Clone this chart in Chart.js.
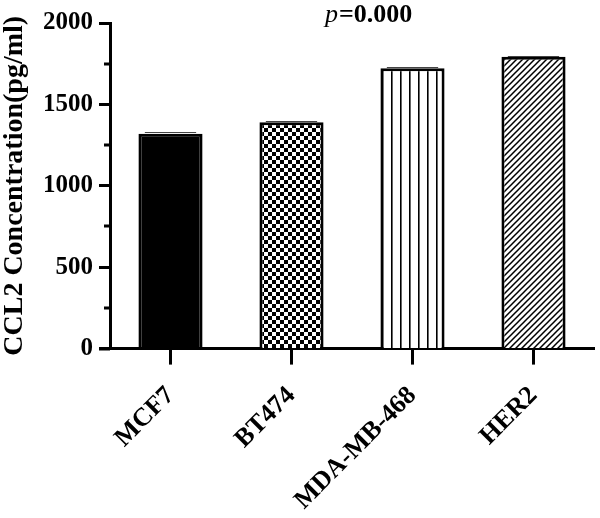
<!DOCTYPE html>
<html>
<head>
<meta charset="utf-8">
<script src="https://cdn.jsdelivr.net/npm/chart.js@4"></script>
<style>
  html, body { margin: 0; padding: 0; background: #fff; }
  #wrap { width: 600px; height: 518px; }
</style>
</head>
<body>
<div id="wrap"><canvas id="myChart"></canvas></div>
<script>
// datos
const categorias = ['MCF7', 'BT474', 'MDA-MB-468', 'HER2'];
const valores = [1320, 1390, 1722, 1792];
const errores = [10, 8, 8, 6];
const ticksMenores = [250, 750, 1250, 1750];
const textoP = '=0.000';

const fuente = 'Liberation Serif, Times New Roman, serif';

// patrones de relleno
function patronCuadros() {
    const c = document.createElement('canvas');
    c.width = 8; c.height = 8;
    const g = c.getContext('2d');
    g.fillStyle = '#fff'; g.fillRect(0, 0, 8, 8);
    g.fillStyle = '#000';
    g.fillRect(0, 0, 4, 4);
    g.fillRect(4, 4, 4, 4);
    return g.createPattern(c, 'repeat');
}

function patronVertical() {
    const c = document.createElement('canvas');
    c.width = 9; c.height = 9;
    const g = c.getContext('2d');
    g.fillStyle = '#fff'; g.fillRect(0, 0, 9, 9);
    g.fillStyle = '#000';
    g.fillRect(4, 0, 1.6, 9);
    return g.createPattern(c, 'repeat');
}

function patronDiagonal() {
    const c = document.createElement('canvas');
    c.width = 6; c.height = 6;
    const g = c.getContext('2d');
    g.fillStyle = '#fff'; g.fillRect(0, 0, 6, 6);
    g.strokeStyle = '#000';
    g.lineWidth = 1.5;
    g.beginPath();
    g.moveTo(-1, 7); g.lineTo(7, -1);
    g.moveTo(-4, 4); g.lineTo(4, -4);
    g.moveTo(2, 10); g.lineTo(10, 2);
    g.stroke();
    return g.createPattern(c, 'repeat');
}

const rellenos = ['#000', patronCuadros(), patronVertical(), patronDiagonal()];

// barras de error, ticks menores y texto p
const extras = {
    id: 'extras',
    afterDatasetsDraw(chart) {
        const ctx = chart.ctx;
        const y = chart.scales.y;
        const meta = chart.getDatasetMeta(0);
        ctx.save();
        ctx.strokeStyle = '#444';
        ctx.lineWidth = 1;
        meta.data.forEach((bar, i) => {
            const yTop = Math.round(y.getPixelForValue(valores[i] + errores[i])) + 0.5;
            const half = bar.width * 0.4;
            ctx.beginPath();
            ctx.moveTo(bar.x - half, yTop);
            ctx.lineTo(bar.x + half, yTop);
            ctx.stroke();
        });
        ctx.restore();
    },
    afterDraw(chart) {
        const ctx = chart.ctx;
        const area = chart.chartArea;
        const y = chart.scales.y;
        ctx.save();
        ctx.strokeStyle = '#000';
        ctx.lineWidth = 3;
        ctx.beginPath();
        ticksMenores.forEach(v => {
            const py = Math.round(y.getPixelForValue(v));
            ctx.moveTo(area.left - 6, py);
            ctx.lineTo(area.left, py);
        });
        // el eje x sale un poco a la izquierda del eje y
        ctx.moveTo(area.left - 11, area.bottom + 0.5);
        ctx.lineTo(area.left, area.bottom + 0.5);
        ctx.stroke();

        ctx.fillStyle = '#000';
        ctx.textBaseline = 'alphabetic';
        ctx.textAlign = 'left';
        ctx.font = 'italic 26px ' + fuente;
        const xp = 325;
        const yp = 22;
        ctx.fillText('p', xp, yp);
        const w = ctx.measureText('p').width;
        ctx.font = 'bold 26px ' + fuente;
        ctx.fillText(textoP, xp + w + 1, yp);
        ctx.restore();
    }
};

const ctx = document.getElementById('myChart').getContext('2d');
new Chart(ctx, {
    type: 'bar',
    data: {
        labels: categorias,
        datasets: [{
            data: valores,
            backgroundColor: rellenos,
            borderColor: '#000',
            borderWidth: 3,
            borderSkipped: 'bottom',
            categoryPercentage: 1,
            barPercentage: 0.53
        }]
    },
    options: {
        responsive: true,
        maintainAspectRatio: false,
        animation: false,
        layout: {
            padding: { top: 23, right: 6, left: 0, bottom: -14 }
        },
        plugins: {
            legend: { display: false },
            tooltip: { enabled: false }
        },
        scales: {
            x: {
                grid: {
                    display: true,
                    offset: false,
                    drawOnChartArea: false,
                    drawTicks: true,
                    tickLength: 16,
                    tickWidth: 3,
                    tickColor: '#000'
                },
                border: { display: true, color: '#000', width: 3 },
                ticks: {
                    color: '#000',
                    font: { family: fuente, size: 26, weight: 'bold' },
                    minRotation: 45,
                    maxRotation: 45,
                    padding: 16
                }
            },
            y: {
                min: 0,
                max: 2000,
                grid: {
                    display: true,
                    drawOnChartArea: false,
                    drawTicks: true,
                    tickLength: 11,
                    tickWidth: 3,
                    tickColor: '#000'
                },
                border: { display: true, color: '#000', width: 3 },
                ticks: {
                    stepSize: 500,
                    color: '#000',
                    font: { family: fuente, size: 25, weight: 'bold' },
                    padding: 6,
                    callback: v => String(v)
                },
                title: {
                    display: true,
                    text: 'CCL2 Concentration(pg/ml)',
                    color: '#000',
                    font: { family: fuente, size: 28, weight: 'bold', lineHeight: 1 },
                    padding: { top: 1, bottom: 8 }
                }
            }
        }
    },
    plugins: [extras]
});
</script>
</body>
</html>
